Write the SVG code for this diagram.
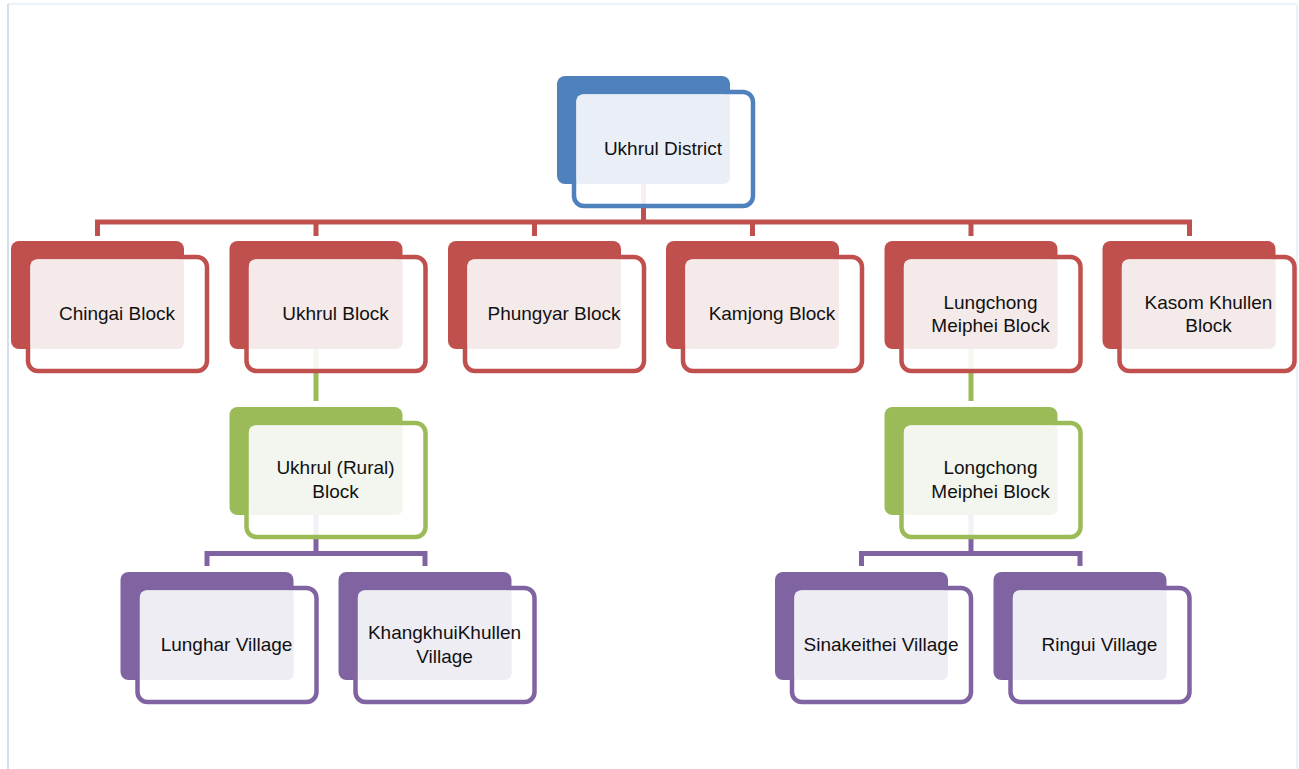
<svg xmlns="http://www.w3.org/2000/svg" width="1299" height="769" viewBox="0 0 1299 769">
  <style>
    text { font-family: "Liberation Sans", Arial, sans-serif; font-size: 19px; fill: #111; text-anchor: middle; }
    .back { stroke: none; }
    .frame { fill: #fff; fill-opacity: 0.9; stroke-width: 4.5; }
    .tint { stroke: none; }
    .blue .back { fill: #4F81BD; } .blue .frame { stroke: #4F81BD; } .blue .tint { fill: #EAEFF7; }
    .red .back { fill: #C0504D; } .red .frame { stroke: #C0504D; } .red .tint { fill: #F5EAEA; }
    .green .back { fill: #9BBB59; } .green .frame { stroke: #9BBB59; } .green .tint { fill: #F3F6EE; }
    .purple .back { fill: #8064A2; } .purple .frame { stroke: #8064A2; } .purple .tint { fill: #EFEDF4; }
    .conn { fill: none; stroke-width: 5; stroke-linejoin: miter; }
  </style>

  <rect x="0" y="0" width="1299" height="769" fill="#fff"/>
  <!-- page frame -->
  <line x1="8" y1="4" x2="1297" y2="4" stroke="#EDF1F8" stroke-width="2"/>
  <line x1="1297" y1="4" x2="1297" y2="769" stroke="#EDF1F8" stroke-width="2"/>
  <line x1="8" y1="4" x2="8" y2="769" stroke="#D3DFEE" stroke-width="2"/>

  <!-- connectors -->
  <g id="connectors">
    <path class="conn" stroke="#C0504D" d="M643.5 184 V222 M97.5 222 H1189.5 M97.5 219.5 V236 M316 222 V236 M534.5 222 V236 M752.5 222 V236 M971 222 V236 M1189.5 219.5 V236"/>
    <path class="conn" stroke="#9BBB59" d="M316 349 V401 M971 349 V401"/>
    <path class="conn" stroke="#8064A2" d="M316 515 V553.5 M207 553.5 H425 M207 551 V566 M425 551 V566"/>
    <path class="conn" stroke="#8064A2" d="M971 515 V553.5 M861.5 553.5 H1080 M861.5 551 V566 M1080 551 V566"/>
  </g>

  <!-- each node: solid back card, offset outlined card, tinted overlap, label -->
  <!-- level 0 -->
  <g id="node-ukhrul-district" class="blue" transform="translate(557 76)">
    <rect class="back" width="173" height="108" rx="8"/>
    <rect class="frame" x="17" y="16" width="179" height="114" rx="10"/>
    <rect class="tint" x="19.5" y="18.5" width="153.5" height="89.5" rx="6"/>
    <text x="106" y="79">Ukhrul District</text>
  </g>

  <!-- level 1: blocks -->
  <g id="node-chingai" class="red" transform="translate(11 241)">
    <rect class="back" width="173" height="108" rx="8"/>
    <rect class="frame" x="17" y="16" width="179" height="114" rx="10"/>
    <rect class="tint" x="19.5" y="18.5" width="153.5" height="89.5" rx="6"/>
    <text x="106" y="79">Chingai Block</text>
  </g>
  <g id="node-ukhrul-block" class="red" transform="translate(229.5 241)">
    <rect class="back" width="173" height="108" rx="8"/>
    <rect class="frame" x="17" y="16" width="179" height="114" rx="10"/>
    <rect class="tint" x="19.5" y="18.5" width="153.5" height="89.5" rx="6"/>
    <text x="106" y="79">Ukhrul Block</text>
  </g>
  <g id="node-phungyar" class="red" transform="translate(448 241)">
    <rect class="back" width="173" height="108" rx="8"/>
    <rect class="frame" x="17" y="16" width="179" height="114" rx="10"/>
    <rect class="tint" x="19.5" y="18.5" width="153.5" height="89.5" rx="6"/>
    <text x="106" y="79">Phungyar Block</text>
  </g>
  <g id="node-kamjong" class="red" transform="translate(666 241)">
    <rect class="back" width="173" height="108" rx="8"/>
    <rect class="frame" x="17" y="16" width="179" height="114" rx="10"/>
    <rect class="tint" x="19.5" y="18.5" width="153.5" height="89.5" rx="6"/>
    <text x="106" y="79">Kamjong Block</text>
  </g>
  <g id="node-lungchong" class="red" transform="translate(884.5 241)">
    <rect class="back" width="173" height="108" rx="8"/>
    <rect class="frame" x="17" y="16" width="179" height="114" rx="10"/>
    <rect class="tint" x="19.5" y="18.5" width="153.5" height="89.5" rx="6"/>
    <text x="106" y="67.5">Lungchong</text>
    <text x="106" y="91">Meiphei Block</text>
  </g>
  <g id="node-kasom" class="red" transform="translate(1102.5 241)">
    <rect class="back" width="173" height="108" rx="8"/>
    <rect class="frame" x="17" y="16" width="175" height="114" rx="10"/>
    <rect class="tint" x="19.5" y="18.5" width="153.5" height="89.5" rx="6"/>
    <text x="106" y="67.5">Kasom Khullen</text>
    <text x="106" y="91">Block</text>
  </g>

  <!-- level 2 -->
  <g id="node-ukhrul-rural" class="green" transform="translate(229.5 407)">
    <rect class="back" width="173" height="108" rx="8"/>
    <rect class="frame" x="17" y="16" width="179" height="114" rx="10"/>
    <rect class="tint" x="19.5" y="18.5" width="153.5" height="89.5" rx="6"/>
    <text x="106" y="66.5">Ukhrul (Rural)</text>
    <text x="106" y="90.5">Block</text>
  </g>
  <g id="node-longchong" class="green" transform="translate(884.5 407)">
    <rect class="back" width="173" height="108" rx="8"/>
    <rect class="frame" x="17" y="16" width="179" height="114" rx="10"/>
    <rect class="tint" x="19.5" y="18.5" width="153.5" height="89.5" rx="6"/>
    <text x="106" y="66.5">Longchong</text>
    <text x="106" y="90.5">Meiphei Block</text>
  </g>

  <!-- level 3: villages -->
  <g id="node-lunghar" class="purple" transform="translate(120.5 572)">
    <rect class="back" width="173" height="108" rx="8"/>
    <rect class="frame" x="17" y="16" width="179" height="114" rx="10"/>
    <rect class="tint" x="19.5" y="18.5" width="153.5" height="89.5" rx="6"/>
    <text x="106" y="79">Lunghar Village</text>
  </g>
  <g id="node-khangkhui" class="purple" transform="translate(338.5 572)">
    <rect class="back" width="173" height="108" rx="8"/>
    <rect class="frame" x="17" y="16" width="179" height="114" rx="10"/>
    <rect class="tint" x="19.5" y="18.5" width="153.5" height="89.5" rx="6"/>
    <text x="106" y="66.5">KhangkhuiKhullen</text>
    <text x="106" y="90.5">Village</text>
  </g>
  <g id="node-sinakeithei" class="purple" transform="translate(775 572)">
    <rect class="back" width="173" height="108" rx="8"/>
    <rect class="frame" x="17" y="16" width="179" height="114" rx="10"/>
    <rect class="tint" x="19.5" y="18.5" width="153.5" height="89.5" rx="6"/>
    <text x="106" y="79">Sinakeithei Village</text>
  </g>
  <g id="node-ringui" class="purple" transform="translate(993.5 572)">
    <rect class="back" width="173" height="108" rx="8"/>
    <rect class="frame" x="17" y="16" width="179" height="114" rx="10"/>
    <rect class="tint" x="19.5" y="18.5" width="153.5" height="89.5" rx="6"/>
    <text x="106" y="79">Ringui Village</text>
  </g>
</svg>
